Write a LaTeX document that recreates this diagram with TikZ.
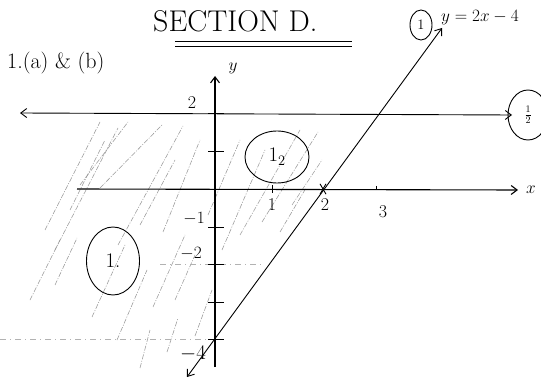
\documentclass[tikz,border=0pt]{standalone}
\usetikzlibrary{arrows.meta,shapes.geometric}
\begin{document}
\begin{tikzpicture}[x=1pt,y=-1pt,
  axisline/.style={line width=1.1pt,black},
  ink/.style={line width=0.9pt,black},
  hatch/.style={line width=0.55pt,gray!80,dash pattern=on 5pt off 1.5pt on 1pt off 1.5pt},
  guide/.style={line width=0.5pt,gray!60,dash pattern=on 6pt off 4pt on 1pt off 4pt},
  tickmark/.style={line width=0.9pt},
  lbl/.style={font=\fontsize{18}{20}\selectfont,inner sep=1pt},
  ringlbl/.style={draw,ellipse,line width=0.9pt,inner sep=1pt},
  tip/.style={-{Straight Barb[length=6pt,width=9pt]}},
  tips/.style={{Straight Barb[length=6pt,width=9pt]}-{Straight Barb[length=6pt,width=9pt]}}
]
\useasboundingbox (0,0) rectangle (541,382);
\fill[white] (0,0) rectangle (541,382);

% hatching of the region
\foreach \a/\b/\c/\d in {45/230/100/122, 55/250/118/128, 55/285/77/238, 80/185/128/122,
  92/317/125/245, 100/188/162/125, 117/340/147/270, 118/245/183/126, 140/225/175/160,
  153/307/185/235, 140/368/150/330, 167/352/178/318, 163/232/200/140, 195/336/212/290,
  175/300/195/255, 222/250/265/150, 240/235/300/130, 262/222/318/132, 280/232/306/188,
  292/205/322/160, 208/215/240/140, 30/300/60/240, 70/210/105/140}
  \draw[hatch] (\a,\b) -- (\c,\d);

% guide lines
\coordinate (g1) at (0,339);
\coordinate (g2) at (215,339);
\draw[guide] (g1) -- (g2);
\coordinate (g3) at (160,264);
\coordinate (g4) at (262,264);
\draw[guide] (g3) -- (g4);

% axes
\coordinate (O) at (215,189);
\coordinate (ytop) at (215,76);
\coordinate (ybot) at (215,367);
\coordinate (xleft) at (77,189);
\coordinate (xright) at (518,190);
\draw[axisline,tip] (ybot) -- (ytop);
\draw[axisline,tip] (xleft) -- (xright);
\node[font=\LARGE,inner sep=1pt] (ylab) at (233,68) {$y$};
\node[font=\LARGE,inner sep=1pt] (xlab) at (531,190) {$x$};

% line y = 2
\coordinate (hl) at (20,113);
\coordinate (hr) at (512,115);
\draw[ink,tips] (hl) -- (hr);

% line y = 2x - 4
\coordinate (ltop) at (442,28);
\coordinate (lbot) at (187,377);
\draw[ink,tips] (lbot) -- (ltop);

% y ticks
\foreach \t in {113,151,227,264,302,339}
  \draw[tickmark] (208,\t) -- (224,\t);
% x ticks
\draw[tickmark] (272,185) -- (272,193);
\draw[tickmark] (376,186) -- (376,190);
% star at (2,0)
\foreach \ang in {0,60,120}
  \draw[tickmark] (323,189) ++(\ang:6) -- ++(\ang+180:12);

% axis labels
\node[lbl] (l2y) at (192,103) {2};
\node[lbl] (lm1) at (194,219) {$-1$};
\node[lbl] (lm2) at (191,254) {$-2$};
\node[font=\huge,inner sep=1pt] (lm4) at (193,354) {$-4$};
\node[lbl] (l1x) at (272,205) {1};
\node[lbl] (l2x) at (325,205) {2};
\node[lbl] (l3x) at (383,212) {3};

% region labels
\node[ringlbl,minimum width=64pt,minimum height=52pt] (r12) at (277,157) {\huge 1\raisebox{-4pt}{\Large 2}};
\node[ringlbl,minimum width=53pt,minimum height=68pt] (r1) at (113,261) {\huge 1.};
\node[ringlbl,minimum width=40pt,minimum height=50pt] (c2) at (528,115) {\Large$\frac{1}{2}$};

% titles
\node[font=\fontsize{30}{32}\selectfont,inner sep=1pt,anchor=west] (title) at (152,21) {SECTION D.};
\draw[line width=0.8pt] (175,41) -- (352,41);
\draw[line width=0.8pt] (175,46) -- (352,46);
\node[ringlbl,minimum width=22pt,minimum height=30pt,font=\Large] (c1) at (421,25) {1};
\node[font=\fontsize{17}{19}\selectfont,inner sep=1pt,anchor=west] (eq) at (440,18) {$y=2x-4$};
\node[font=\fontsize{22}{24}\selectfont,inner sep=1pt,anchor=west] (q) at (6,63) {1.(a) \& (b)};
\end{tikzpicture}
\end{document}
